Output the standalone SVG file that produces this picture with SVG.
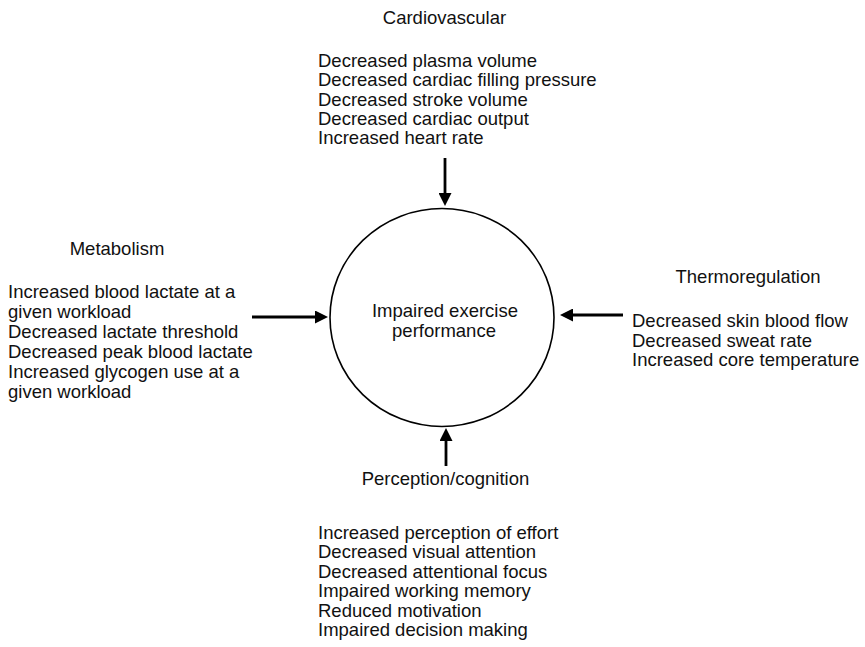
<svg xmlns="http://www.w3.org/2000/svg" width="865" height="647" viewBox="0 0 865 647">
<defs>
<style>
text{font-family:"Liberation Sans",Arial,sans-serif;font-size:18.5px;fill:#111;}
.c{text-anchor:middle;}
.conn{stroke:#000;stroke-width:2.8;fill:none;}
</style>
<marker id="ah" markerUnits="userSpaceOnUse" markerWidth="14" markerHeight="13" refX="1" refY="6.5" orient="auto">
<path d="M0,0 L13,6.5 L0,13 z" fill="#000"/>
</marker>
</defs>
<rect width="865" height="647" fill="#fff"/>
<g id="center">
<ellipse cx="442" cy="317.5" rx="112" ry="109" fill="none" stroke="#000" stroke-width="1.6"/>
<text class="c" x="445" y="317">Impaired exercise</text>
<text class="c" x="444" y="337">performance</text>
</g>
<g id="cardiovascular">
<text class="c" x="444.5" y="24">Cardiovascular</text>
<text x="318" y="67">Decreased plasma volume</text>
<text x="318" y="86.3">Decreased cardiac filling pressure</text>
<text x="318" y="105.6">Decreased stroke volume</text>
<text x="318" y="124.9">Decreased cardiac output</text>
<text x="318" y="144.2">Increased heart rate</text>
</g>
<g id="metabolism">
<text class="c" x="117" y="255">Metabolism</text>
<text x="8" y="298">Increased blood lactate at a</text>
<text x="8" y="318">given workload</text>
<text x="8" y="338">Decreased lactate threshold</text>
<text x="8" y="358">Decreased peak blood lactate</text>
<text x="8" y="378">Increased glycogen use at a</text>
<text x="8" y="398">given workload</text>
</g>
<g id="thermoregulation">
<text class="c" x="748" y="283">Thermoregulation</text>
<text x="632" y="327">Decreased skin blood flow</text>
<text x="632" y="346.5">Decreased sweat rate</text>
<text x="632" y="366">Increased core temperature</text>
</g>
<g id="perception">
<text class="c" x="445.5" y="485">Perception/cognition</text>
<text x="318" y="538.5">Increased perception of effort</text>
<text x="318" y="558">Decreased visual attention</text>
<text x="318" y="577.5">Decreased attentional focus</text>
<text x="318" y="597">Impaired working memory</text>
<text x="318" y="616.5">Reduced motivation</text>
<text x="318" y="636">Impaired decision making</text>
</g>
<g id="connectors">
<line class="conn" x1="445" y1="158" x2="445" y2="194" marker-end="url(#ah)"/>
<line class="conn" x1="252" y1="317" x2="316" y2="317" marker-end="url(#ah)"/>
<line class="conn" x1="623" y1="315" x2="572" y2="315" marker-end="url(#ah)"/>
<line class="conn" x1="446" y1="466" x2="446" y2="440" marker-end="url(#ah)"/>
</g>
</svg>
